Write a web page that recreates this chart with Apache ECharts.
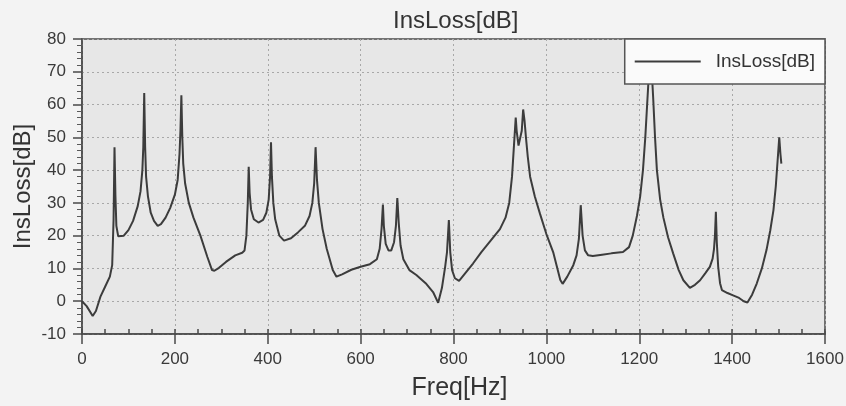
<!DOCTYPE html>
<html>
<head>
<meta charset="utf-8">
<script src="https://cdn.jsdelivr.net/npm/echarts@6/dist/echarts.min.js"></script>
<style>
html,body{margin:0;padding:0;background:#f3f3f3;}
#chart{width:846px;height:406px;}
</style>
</head>
<body>
<div id="chart"></div>
<script>
const chartTitle = 'InsLoss[dB]';
const seriesName = 'InsLoss[dB]';
const xName = 'Freq[Hz]';
const yName = 'InsLoss[dB]';

const freq = [0,10,23,30,40,50,60,65,68,70,72,74,78,
  90,100,110,120,126,130,132,134,136,138,142,148,155,163,170,180,190,200,206,210,212,214,216,218,222,230,240,255,270,280,285,295,310,330,345,350,354,357,359,361,364,370,380,390,397,402,405,407,409,412,416,425,435,450,465,480,490,496,500,503,506,510,518,527,540,548,560,580,600,620,635,641,645,648,650,654,660,666,672,676,679,682,686,692,705,720,740,756,767,775,782,786,790,793,797,803,812,825,842,860,880,900,912,920,926,930,934,936,940,944,947,950,953,956,960,965,975,986,1000,1015,1030,1035,1045,1058,1065,1070,1074,1078,1083,1090,1100,1120,1140,1165,1178,1186,1195,1202,1208,1213,1217,1221,1224,1227,1230,1234,1238,1245,1252,1262,1273,1285,1295,1309,1320,1331,1342,1352,1358,1361,1363,1365,1367,1370,1374,1378,1390,1402,1415,1425,1433,1443,1453,1464,1474,1482,1489,1494,1498,1501.5,1504,1506];

const insLoss = [0,-1.5,-4.5,-3,1.5,4.5,7.5,11,25,47,32,23,19.8,
  20,21.7,24.5,29,33.5,40,47,63.5,47,38,32,27,24.5,23,23.5,25.5,28.5,32.5,37,45,52,62.8,50,42,36,30,25.5,20,13.5,9.5,9.3,10.2,12,14,14.8,15.5,20,30,41,33,28,25,24,24.8,27,31,38,48.5,38,30,25,20,18.5,19.2,21,23,26,30,36,47,37,30,22,16,9.5,7.5,8.2,9.6,10.5,11.3,12.8,16,22,29.5,23,17.5,15.5,15.5,18,23,31.5,24,17,12.8,9.5,8,5.5,2.8,-0.5,4,10.5,15,24.8,15,9.5,7,6.2,8.5,11.5,15,18.5,22,25.5,30,38,47,56,52,47.5,47,52,58.5,55,50,44,38,32,26.8,20.5,14.8,6.5,5.3,7.5,11,14,19,29.3,20,15.5,14,13.8,14.2,14.6,15,16.5,20,26,32,40,50,60,70,73,70,62,50,40,31,25.5,19.5,14.6,9.5,6.4,4.1,5,6.4,8.5,10.5,13,16,20,27.3,18,10.5,5.5,3.4,2.5,1.8,1,0,-0.4,2,5.4,10,15.6,21.5,27.8,35,43,50,45,42];

const xTicks = [0,200,400,600,800,1000,1200,1400,1600];
const yTicks = [-10,0,10,20,30,40,50,60,70,80];

const data = freq.map((f, i) => [f, insLoss[i]]);

const chart = echarts.init(document.getElementById('chart'), null, {renderer: 'canvas'});
const FONT = 'Liberation Sans, Arial, sans-serif';
const labelFont = {color: '#3a3a3a', fontSize: 17, fontFamily: FONT};

chart.setOption({
  backgroundColor: '#f3f3f3',
  animation: false,
  title: {
    text: chartTitle,
    left: 388,
    top: 4,
    textStyle: {color: '#333', fontSize: 24, fontWeight: 'normal', fontFamily: FONT}
  },
  legend: {
    data: [seriesName],
    right: 21,
    top: 39,
    padding: [13, 10, 13, 10],
    icon: 'rect',
    itemWidth: 66,
    itemHeight: 2,
    itemStyle: {color: '#3c3c3c'},
    backgroundColor: '#fafafa',
    borderColor: '#555',
    borderWidth: 1.5,
    borderRadius: 0,
    textStyle: {color: '#333', fontSize: 19, fontFamily: FONT, padding: [0, 0, 0, 10]}
  },
  grid: {
    left: 82, right: 21, top: 39, bottom: 72,
    containLabel: false,
    outerBoundsMode: 'none',
    show: true,
    backgroundColor: '#e7e7e7',
    borderColor: '#4a4a4a',
    borderWidth: 1.5
  },
  xAxis: [{
    type: 'value',
    min: xTicks[0], max: xTicks[xTicks.length - 1], interval: xTicks[1] - xTicks[0],
    name: xName,
    nameLocation: 'middle',
    nameGap: 42,
    nameMoveOverlap: false,
    nameTextStyle: {color: '#333', fontSize: 25, fontFamily: FONT, padding: [0, 0, 0, 12]},
    axisLine: {show: true, onZero: false, lineStyle: {color: '#4a4a4a', width: 1.5}},
    axisTick: {show: true, inside: false, length: 10, lineStyle: {color: '#4a4a4a', width: 1.5}},
    axisLabel: Object.assign({margin: 17, formatter: v => String(v)}, labelFont),
    splitLine: {show: true, lineStyle: {color: '#a8a8a8', type: [2, 3], width: 1}}
  }, {
    type: 'value',
    position: 'bottom',
    offset: 0,
    min: xTicks[0], max: xTicks[xTicks.length - 1], interval: 50,
    axisLine: {show: false, onZero: false},
    axisTick: {show: true, inside: true, length: 5, lineStyle: {color: '#4a4a4a', width: 1.5}},
    axisLabel: {show: false},
    splitLine: {show: false}
  }],
  yAxis: {
    type: 'value',
    min: yTicks[0], max: yTicks[yTicks.length - 1], interval: yTicks[1] - yTicks[0],
    name: yName,
    nameLocation: 'middle',
    nameGap: 47,
    nameMoveOverlap: false,
    nameTextStyle: {color: '#333', fontSize: 24, fontFamily: FONT},
    axisLine: {show: true, onZero: false, lineStyle: {color: '#4a4a4a', width: 1.5}},
    axisTick: {show: true, inside: false, length: 9, lineStyle: {color: '#4a4a4a', width: 1.5}},
    minorTick: {show: true, splitNumber: 5, length: 5, lineStyle: {color: '#5a5a5a', width: 1}},
    axisLabel: Object.assign({margin: 16}, labelFont),
    splitLine: {show: true, lineStyle: {color: '#a8a8a8', type: [2, 3], width: 1}}
  },
  series: [{
    name: seriesName,
    type: 'line',
    xAxisIndex: 0,
    data: data,
    symbol: 'none',
    smooth: false,
    lineStyle: {color: '#3c3c3c', width: 2},
    itemStyle: {color: '#3c3c3c'}
  }]
});
</script>
</body>
</html>
